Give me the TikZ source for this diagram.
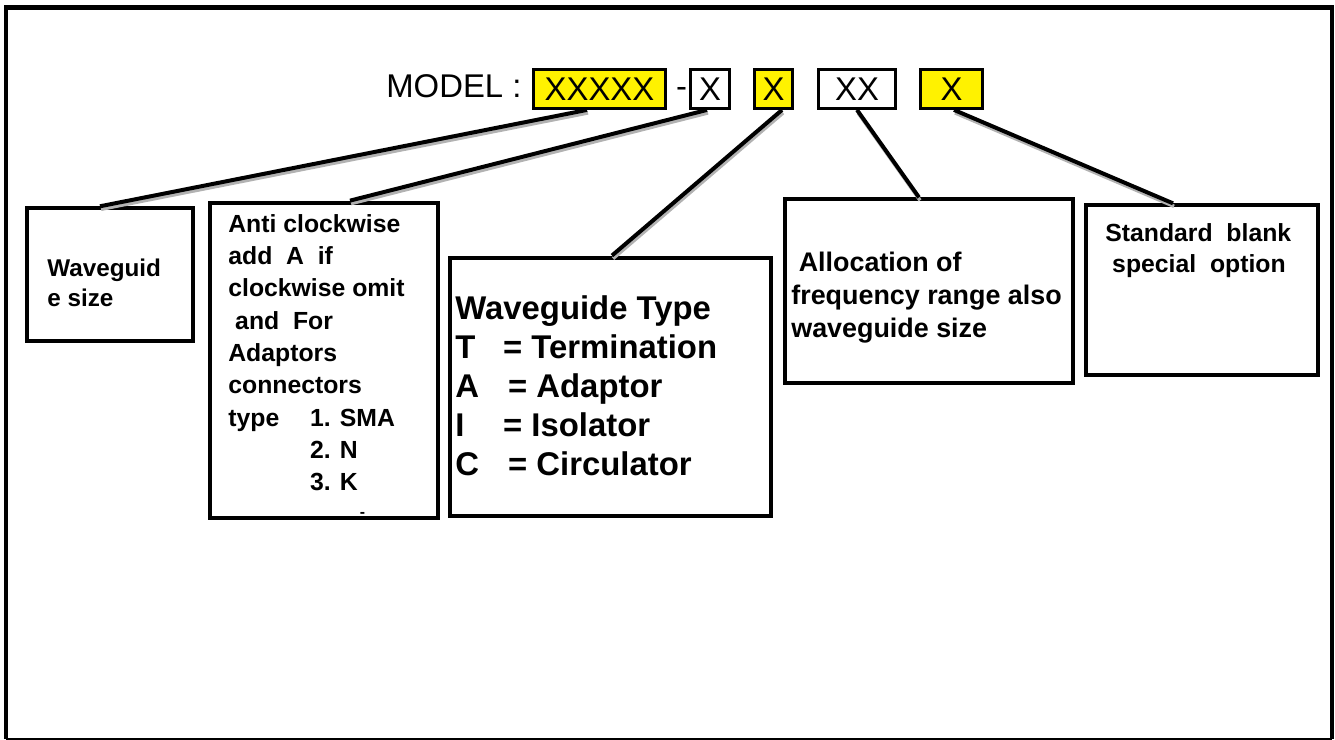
\documentclass[tikz,border=0pt]{standalone}
\usepackage{fontspec}
\setmainfont{Liberation Sans}
\usetikzlibrary{calc}
\newlength\pxl
\setlength\pxl{0.5669pt}

\begin{document}
\begin{tikzpicture}[x=0.02cm, y=-0.02cm,
	codebox/.style={draw, line width=3\pxl, inner sep=0pt, minimum height=39\pxl, font=\fontsize{18.7}{22}\selectfont},
	codetext/.style={inner sep=0pt, font=\fontsize{18.7}{22}\selectfont},
	infobox/.style={draw, line width=4\pxl, inner sep=0pt},
	note/.style={anchor=north west, align=left, inner sep=0pt},
	callout/.style={line width=4\pxl, preaction={draw=gray!60, line width=3.5\pxl, transform canvas={shift={(0.6pt,-1.7pt)}}}}]

\useasboundingbox (0,0) rectangle (1335,740);
% frame
\draw[line width=4.5\pxl] (6,739) -- (6,7.5) -- (1332,7.5) -- (1332,739);
\draw[line width=1.5\pxl] (6,739) -- (1332,739);

% model code
\node[codetext, anchor=base west] (model) at (386,98) {MODEL :};
\node[codebox, fill=yellow, minimum width=132\pxl] (xxxxx) at (599.5,89) {XXXXX};
\node[codetext, anchor=base] (dash) at (681.5,98) {-};
\node[codebox, minimum width=39\pxl] (xw) at (710,89) {X};
\node[codebox, fill=yellow, minimum width=38\pxl] (xy) at (773.5,89) {X};
\node[codebox, minimum width=77\pxl] (xx) at (857,89) {XX};
\node[codebox, fill=yellow, minimum width=62\pxl] (xo) at (951.5,89) {X};

% boxes
\node[infobox, minimum width=166\pxl, minimum height=133\pxl] (size) at (110,274.5) {};
\node[infobox, minimum width=228\pxl, minimum height=317\pxl] (rot) at (324,360.5) {};
\node[infobox, minimum width=323\pxl, minimum height=260\pxl] (type) at (610.5,387) {};
\node[infobox, minimum width=290\pxl, minimum height=184\pxl] (band) at (929,291) {};
\node[infobox, minimum width=232\pxl, minimum height=170\pxl] (opt) at (1202,290) {};

\node[note, font=\bfseries\fontsize{13.8}{16.7}\selectfont] (sizetxt) at (47,259) {Waveguid\\e size};
\node[note, font=\bfseries\fontsize{14.1}{18.4}\selectfont] (rottxt) at (228,214) {Anti clockwise\\add~~A~~if\\clockwise omit\\~and~~For\\Adaptors\\connectors\\\makebox[82\pxl][l]{type}1. SMA\\\hspace*{82\pxl}2. N\\\hspace*{82\pxl}3. K\\\hspace*{132\pxl}\raisebox{6\pxl}{\fontsize{9}{10}\selectfont -}};
\node[note, font=\bfseries\fontsize{18.7}{22.3}\selectfont] (typetxt) at (455,295) {Waveguide Type\\\makebox[48\pxl][l]{T}= Termination\\\makebox[53\pxl][l]{A}= Adaptor\\\makebox[48\pxl][l]{I}= Isolator\\\makebox[53\pxl][l]{C}= Circulator};
\node[note, font=\bfseries\fontsize{15.3}{18.7}\selectfont] (bandtxt) at (791,252) {~Allocation of\\frequency range also\\waveguide size};
\node[note, font=\bfseries\fontsize{14.1}{17.6}\selectfont] (opttxt) at (1105,223) {Standard~~blank\\~special~~option};

% callouts
\draw[callout] ($(xxxxx.south)+(-12.5,0)$) -- ($(size.north)+(-10,0)$);
\draw[callout] ($(xw.south)+(-3,0)$) -- ($(rot.north)+(26,0)$);
\draw[callout] ($(xy.south)+(8.5,0)$) -- ($(type.north)+(1.5,0)$);
\draw[callout] (xx.south) -- ($(band.north)+(-10,0)$);
\draw[callout] ($(xo.south)+(2.5,0)$) -- ($(opt.north)+(-29,0)$);

\end{tikzpicture}
\end{document}
